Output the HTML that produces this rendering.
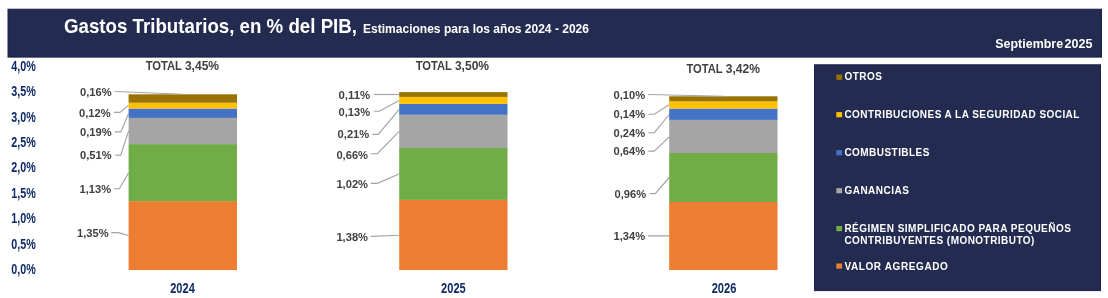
<!DOCTYPE html>
<html><head><meta charset="utf-8"><style>
html,body{margin:0;padding:0;background:#fff;}
body{width:1108px;height:298px;overflow:hidden;}
svg{display:block;font-family:"Liberation Sans", sans-serif;will-change:transform;}
</style></head><body>
<svg width="1108" height="298" viewBox="0 0 1108 298">
<rect width="1108" height="298" fill="#fff"/>
<rect x="8" y="9.2" width="1093.5" height="47.9" fill="#242b50" stroke="#1b2147" stroke-width="1"/>
<text x="64.00" y="33.10" font-size="19.3" fill="#fff" font-weight="bold" text-anchor="start" textLength="293.00" lengthAdjust="spacingAndGlyphs" >Gastos Tributarios, en % del PIB,</text>
<text x="363.00" y="32.80" font-size="13.4" fill="#fff" font-weight="bold" text-anchor="start" textLength="226.00" lengthAdjust="spacingAndGlyphs" >Estimaciones para los años 2024 - 2026</text>
<text x="995.30" y="48.00" font-size="12.7" fill="#fff" font-weight="bold" text-anchor="start" textLength="67.80" lengthAdjust="spacingAndGlyphs" >Septiembre</text>
<text x="1064.60" y="48.00" font-size="12.7" fill="#fff" font-weight="bold" text-anchor="start" textLength="28.00" lengthAdjust="spacingAndGlyphs" >2025</text>
<rect x="814.5" y="64.8" width="286" height="225.8" fill="#242b50" stroke="#1b2147" stroke-width="1"/>
<text x="11.20" y="273.90" font-size="13.8" fill="#102a68" font-weight="bold" text-anchor="start" textLength="24.50" lengthAdjust="spacingAndGlyphs" >0,0%</text>
<text x="11.20" y="248.50" font-size="13.8" fill="#102a68" font-weight="bold" text-anchor="start" textLength="24.50" lengthAdjust="spacingAndGlyphs" >0,5%</text>
<text x="11.20" y="223.10" font-size="13.8" fill="#102a68" font-weight="bold" text-anchor="start" textLength="24.50" lengthAdjust="spacingAndGlyphs" >1,0%</text>
<text x="11.20" y="197.70" font-size="13.8" fill="#102a68" font-weight="bold" text-anchor="start" textLength="24.50" lengthAdjust="spacingAndGlyphs" >1,5%</text>
<text x="11.20" y="172.30" font-size="13.8" fill="#102a68" font-weight="bold" text-anchor="start" textLength="24.50" lengthAdjust="spacingAndGlyphs" >2,0%</text>
<text x="11.20" y="146.90" font-size="13.8" fill="#102a68" font-weight="bold" text-anchor="start" textLength="24.50" lengthAdjust="spacingAndGlyphs" >2,5%</text>
<text x="11.20" y="121.50" font-size="13.8" fill="#102a68" font-weight="bold" text-anchor="start" textLength="24.50" lengthAdjust="spacingAndGlyphs" >3,0%</text>
<text x="11.20" y="96.10" font-size="13.8" fill="#102a68" font-weight="bold" text-anchor="start" textLength="24.50" lengthAdjust="spacingAndGlyphs" >3,5%</text>
<text x="11.20" y="70.70" font-size="13.8" fill="#102a68" font-weight="bold" text-anchor="start" textLength="24.50" lengthAdjust="spacingAndGlyphs" >4,0%</text>
<rect x="128.60" y="201.10" width="108.40" height="68.90" fill="#ed7d31"/>
<rect x="128.60" y="144.10" width="108.40" height="57.00" fill="#70ad47"/>
<rect x="128.60" y="117.90" width="108.40" height="26.20" fill="#a5a5a5"/>
<rect x="128.60" y="108.50" width="108.40" height="9.40" fill="#4472c4"/>
<rect x="128.60" y="102.70" width="108.40" height="5.80" fill="#ffc000"/>
<rect x="128.60" y="94.30" width="108.40" height="8.40" fill="#997300"/>
<rect x="399.20" y="199.90" width="108.30" height="70.10" fill="#ed7d31"/>
<rect x="399.20" y="148.00" width="108.30" height="51.90" fill="#70ad47"/>
<rect x="399.20" y="114.80" width="108.30" height="33.20" fill="#a5a5a5"/>
<rect x="399.20" y="103.90" width="108.30" height="10.90" fill="#4472c4"/>
<rect x="399.20" y="96.90" width="108.30" height="7.00" fill="#ffc000"/>
<rect x="399.20" y="92.10" width="108.30" height="4.80" fill="#997300"/>
<rect x="669.20" y="202.00" width="108.30" height="68.00" fill="#ed7d31"/>
<rect x="669.20" y="153.00" width="108.30" height="49.00" fill="#70ad47"/>
<rect x="669.20" y="119.90" width="108.30" height="33.10" fill="#a5a5a5"/>
<rect x="669.20" y="108.60" width="108.30" height="11.30" fill="#4472c4"/>
<rect x="669.20" y="101.40" width="108.30" height="7.20" fill="#ffc000"/>
<rect x="669.20" y="96.30" width="108.30" height="5.10" fill="#997300"/>
<text x="145.70" y="69.50" font-size="12.1" fill="#404040" font-weight="bold" text-anchor="start" textLength="36.20" lengthAdjust="spacingAndGlyphs" >TOTAL</text>
<text x="184.90" y="69.50" font-size="12.1" fill="#404040" font-weight="bold" text-anchor="start" textLength="34.20" lengthAdjust="spacingAndGlyphs" >3,45%</text>
<text x="415.70" y="69.50" font-size="12.1" fill="#404040" font-weight="bold" text-anchor="start" textLength="36.20" lengthAdjust="spacingAndGlyphs" >TOTAL</text>
<text x="454.90" y="69.50" font-size="12.1" fill="#404040" font-weight="bold" text-anchor="start" textLength="34.20" lengthAdjust="spacingAndGlyphs" >3,50%</text>
<text x="686.50" y="73.10" font-size="12.1" fill="#404040" font-weight="bold" text-anchor="start" textLength="36.20" lengthAdjust="spacingAndGlyphs" >TOTAL</text>
<text x="725.70" y="73.10" font-size="12.1" fill="#404040" font-weight="bold" text-anchor="start" textLength="34.20" lengthAdjust="spacingAndGlyphs" >3,42%</text>
<text x="182.50" y="292.80" font-size="14.2" fill="#102a68" font-weight="bold" text-anchor="middle" textLength="24.60" lengthAdjust="spacingAndGlyphs" >2024</text>
<text x="453.40" y="292.80" font-size="14.2" fill="#102a68" font-weight="bold" text-anchor="middle" textLength="24.60" lengthAdjust="spacingAndGlyphs" >2025</text>
<text x="724.00" y="292.80" font-size="14.2" fill="#102a68" font-weight="bold" text-anchor="middle" textLength="24.60" lengthAdjust="spacingAndGlyphs" >2026</text>
<text x="80.00" y="95.70" font-size="11.1" fill="#404040" font-weight="bold" text-anchor="start" textLength="31.60" lengthAdjust="spacingAndGlyphs" >0,16%</text>
<polyline points="115.00,91.50 182.80,94.30" fill="none" stroke="#a3a3a3" stroke-width="1.15"/>
<text x="79.00" y="116.80" font-size="11.1" fill="#404040" font-weight="bold" text-anchor="start" textLength="31.60" lengthAdjust="spacingAndGlyphs" >0,12%</text>
<polyline points="114.00,112.40 120.00,112.40 128.60,105.40" fill="none" stroke="#a3a3a3" stroke-width="1.15"/>
<text x="80.00" y="136.30" font-size="11.1" fill="#404040" font-weight="bold" text-anchor="start" textLength="31.60" lengthAdjust="spacingAndGlyphs" >0,19%</text>
<polyline points="115.00,131.90 121.00,131.90 128.60,113.30" fill="none" stroke="#a3a3a3" stroke-width="1.15"/>
<text x="80.00" y="159.10" font-size="11.1" fill="#404040" font-weight="bold" text-anchor="start" textLength="31.60" lengthAdjust="spacingAndGlyphs" >0,51%</text>
<polyline points="115.30,155.10 120.70,155.10 128.60,131.10" fill="none" stroke="#a3a3a3" stroke-width="1.15"/>
<text x="79.50" y="192.70" font-size="11.1" fill="#404040" font-weight="bold" text-anchor="start" textLength="31.60" lengthAdjust="spacingAndGlyphs" >1,13%</text>
<polyline points="114.00,188.70 119.30,188.70 128.60,172.70" fill="none" stroke="#a3a3a3" stroke-width="1.15"/>
<text x="77.00" y="237.20" font-size="11.1" fill="#404040" font-weight="bold" text-anchor="start" textLength="31.60" lengthAdjust="spacingAndGlyphs" >1,35%</text>
<polyline points="111.20,232.60 118.30,232.60 128.60,235.50" fill="none" stroke="#a3a3a3" stroke-width="1.15"/>
<text x="338.50" y="99.10" font-size="11.1" fill="#404040" font-weight="bold" text-anchor="start" textLength="31.60" lengthAdjust="spacingAndGlyphs" >0,11%</text>
<polyline points="373.90,94.50 399.20,94.50" fill="none" stroke="#a3a3a3" stroke-width="1.15"/>
<text x="338.50" y="115.80" font-size="11.1" fill="#404040" font-weight="bold" text-anchor="start" textLength="31.60" lengthAdjust="spacingAndGlyphs" >0,13%</text>
<polyline points="373.90,111.20 379.30,111.20 399.20,100.60" fill="none" stroke="#a3a3a3" stroke-width="1.15"/>
<text x="337.60" y="138.40" font-size="11.1" fill="#404040" font-weight="bold" text-anchor="start" textLength="31.60" lengthAdjust="spacingAndGlyphs" >0,21%</text>
<polyline points="372.30,134.30 378.30,134.30 399.20,109.30" fill="none" stroke="#a3a3a3" stroke-width="1.15"/>
<text x="336.40" y="158.70" font-size="11.1" fill="#404040" font-weight="bold" text-anchor="start" textLength="31.60" lengthAdjust="spacingAndGlyphs" >0,66%</text>
<polyline points="370.80,153.70 377.30,153.70 399.20,131.40" fill="none" stroke="#a3a3a3" stroke-width="1.15"/>
<text x="336.40" y="187.70" font-size="11.1" fill="#404040" font-weight="bold" text-anchor="start" textLength="31.60" lengthAdjust="spacingAndGlyphs" >1,02%</text>
<polyline points="370.80,183.30 377.30,183.30 399.20,174.00" fill="none" stroke="#a3a3a3" stroke-width="1.15"/>
<text x="336.40" y="240.80" font-size="11.1" fill="#404040" font-weight="bold" text-anchor="start" textLength="31.60" lengthAdjust="spacingAndGlyphs" >1,38%</text>
<polyline points="370.80,236.40 399.20,235.20" fill="none" stroke="#a3a3a3" stroke-width="1.15"/>
<text x="613.50" y="99.10" font-size="11.1" fill="#404040" font-weight="bold" text-anchor="start" textLength="31.60" lengthAdjust="spacingAndGlyphs" >0,10%</text>
<polyline points="647.90,94.50 723.80,96.20" fill="none" stroke="#a3a3a3" stroke-width="1.15"/>
<text x="613.50" y="117.80" font-size="11.1" fill="#404040" font-weight="bold" text-anchor="start" textLength="31.60" lengthAdjust="spacingAndGlyphs" >0,14%</text>
<polyline points="648.30,114.20 654.30,114.20 669.20,104.85" fill="none" stroke="#a3a3a3" stroke-width="1.15"/>
<text x="613.50" y="137.00" font-size="11.1" fill="#404040" font-weight="bold" text-anchor="start" textLength="31.60" lengthAdjust="spacingAndGlyphs" >0,24%</text>
<polyline points="648.30,132.70 654.30,132.70 669.20,114.50" fill="none" stroke="#a3a3a3" stroke-width="1.15"/>
<text x="613.50" y="155.10" font-size="11.1" fill="#404040" font-weight="bold" text-anchor="start" textLength="31.60" lengthAdjust="spacingAndGlyphs" >0,64%</text>
<polyline points="648.30,151.10 654.30,151.10 669.20,136.90" fill="none" stroke="#a3a3a3" stroke-width="1.15"/>
<text x="614.50" y="197.60" font-size="11.1" fill="#404040" font-weight="bold" text-anchor="start" textLength="31.60" lengthAdjust="spacingAndGlyphs" >0,96%</text>
<polyline points="649.90,193.60 655.30,193.60 669.20,177.50" fill="none" stroke="#a3a3a3" stroke-width="1.15"/>
<text x="613.50" y="240.20" font-size="11.1" fill="#404040" font-weight="bold" text-anchor="start" textLength="31.60" lengthAdjust="spacingAndGlyphs" >1,34%</text>
<polyline points="648.00,235.80 669.20,235.90" fill="none" stroke="#a3a3a3" stroke-width="1.15"/>
<rect x="836.3" y="74.60" width="5.8" height="5.2" fill="#997300"/>
<text x="844.40" y="80.00" font-size="10" fill="#fff" font-weight="bold" text-anchor="start" textLength="37.50" lengthAdjust="spacing" >OTROS</text>
<rect x="836.3" y="112.10" width="5.8" height="5.2" fill="#ffc000"/>
<text x="844.40" y="117.60" font-size="10" fill="#fff" font-weight="bold" text-anchor="start" textLength="235.00" lengthAdjust="spacing" >CONTRIBUCIONES A LA SEGURIDAD SOCIAL</text>
<rect x="836.3" y="150.10" width="5.8" height="5.2" fill="#4472c4"/>
<text x="844.40" y="155.50" font-size="10" fill="#fff" font-weight="bold" text-anchor="start" textLength="85.00" lengthAdjust="spacing" >COMBUSTIBLES</text>
<rect x="836.3" y="188.10" width="5.8" height="5.2" fill="#a5a5a5"/>
<text x="844.40" y="193.50" font-size="10" fill="#fff" font-weight="bold" text-anchor="start" textLength="64.50" lengthAdjust="spacing" >GANANCIAS</text>
<rect x="836.3" y="226.00" width="5.8" height="5.2" fill="#70ad47"/>
<text x="844.40" y="231.70" font-size="10" fill="#fff" font-weight="bold" text-anchor="start" textLength="226.50" lengthAdjust="spacing" >RÉGIMEN SIMPLIFICADO PARA PEQUEÑOS</text>
<text x="844.40" y="243.80" font-size="10" fill="#fff" font-weight="bold" text-anchor="start" textLength="190.00" lengthAdjust="spacing" >CONTRIBUYENTES (MONOTRIBUTO)</text>
<rect x="836.3" y="263.50" width="5.8" height="5.2" fill="#ed7d31"/>
<text x="844.40" y="269.50" font-size="10" fill="#fff" font-weight="bold" text-anchor="start" textLength="103.50" lengthAdjust="spacing" >VALOR AGREGADO</text>
</svg>
</body></html>
